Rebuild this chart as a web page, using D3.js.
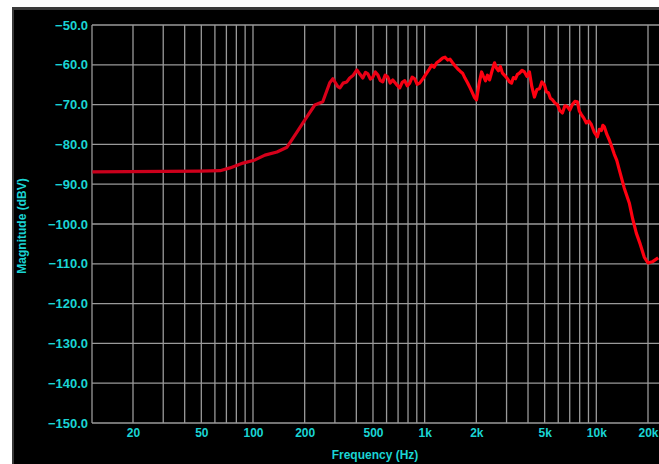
<!DOCTYPE html>
<html><head><meta charset="utf-8">
<script src="https://cdn.jsdelivr.net/npm/d3@7"></script>
<style>html,body{margin:0;padding:0;background:#fff;}svg{display:block;}</style>
</head><body>
<script>
// Data
const freqHz = [11.6,49.2,64.3,73.5,87.5,102.7,117.4,137.9,157.8,180.3,206,229,255,280,292,312,321,335,352,366,384,403,420,436,452,467,483,499,516,533,551,570,589,609,630,652,684,716,740,766,792,818,846,875,905,935,980,1027,1060,1099,1135,1175,1220,1273,1315,1361,1405,1455,1505,1556,1610,1663,1720,1778,1840,1901,1950,2006,2070,2145,2200,2263,2320,2388,2470,2553,2620,2692,2760,2840,2940,3038,3120,3206,3290,3382,3470,3567,3690,3813,3940,4077,4210,4360,4510,4665,4820,4989,5120,5262,5400,5550,5740,5933,6130,6342,6560,6780,7010,7248,7500,7755,7960,8183,8460,8749,9040,9352,9740,10140,10420,10700,10920,11140,11520,11910,12300,12730,13160,13610,14550,15560,16300,17100,18000,19020,20000,21170,22910];
const magDbV = [-86.9,-86.7,-86.6,-85.9,-84.7,-83.9,-82.7,-81.9,-80.7,-76.9,-73.1,-70.1,-69.3,-64.5,-63.5,-65.5,-65.8,-64.6,-64.3,-63.3,-62.6,-61.3,-62.4,-63.3,-61.9,-62.3,-63.6,-63.1,-61.8,-62.5,-63.9,-64.3,-62.6,-63.0,-64.6,-63.8,-64.9,-65.8,-64.4,-64.0,-65.3,-64.6,-63.1,-63.5,-64.9,-64.6,-63.4,-62.1,-61.2,-60.1,-60.6,-59.5,-59.0,-58.3,-58.1,-58.8,-58.6,-59.5,-60.3,-61.0,-61.6,-62.1,-63.4,-64.5,-65.8,-67.1,-68.2,-68.8,-65.0,-61.8,-62.9,-64.0,-62.6,-63.8,-61.5,-59.5,-60.8,-61.5,-60.4,-62.1,-62.8,-63.5,-64.3,-64.6,-63.2,-63.5,-62.4,-62.1,-61.4,-61.8,-62.9,-61.8,-65.5,-68.1,-66.2,-66.0,-64.3,-65.1,-66.8,-67.0,-68.4,-68.8,-69.6,-70.0,-71.5,-72.1,-70.3,-70.5,-71.4,-70.0,-69.2,-69.3,-71.6,-72.5,-73.4,-74.6,-74.1,-75.0,-77.0,-78.1,-76.2,-76.5,-75.2,-75.6,-77.5,-78.9,-80.6,-82.5,-84.0,-86.4,-91.0,-94.7,-98.8,-102.3,-105.0,-108.3,-109.8,-109.5,-108.5];
const yTicks = [-50,-60,-70,-80,-90,-100,-110,-120,-130,-140,-150];
const xTickVals = [20,50,100,200,500,1000,2000,5000,10000,20000];
const xTickLabels = ["20","50","100","200","500","1k","2k","5k","10k","20k"];
const xGridVals = [20,30,40,50,60,70,80,90,100,200,300,400,500,600,700,800,900,1000,2000,3000,4000,5000,6000,7000,8000,9000,10000,20000];

const W = 659, H = 464;
const plot = {left: 92, top: 25, right: 659, bottom: 423};
const cyan = "#1ad4d4";
const font = "Liberation Sans, Arial, sans-serif";

const svg = d3.select("body").append("svg").attr("width", W).attr("height", H);
svg.append("rect").attr("width", W).attr("height", H).attr("fill", "#fff");
svg.append("rect").attr("x", 12).attr("y", 7).attr("width", W - 12).attr("height", H - 7).attr("fill", "#000");
svg.append("rect").attr("x", 12).attr("y", 7).attr("width", W - 12).attr("height", 3).attr("fill", "#3a3a3a");
svg.append("rect").attr("x", 12).attr("y", 7).attr("width", 2).attr("height", H - 7).attr("fill", "#3a3a3a");

// Scales: 20 Hz -> 133px, 20 kHz -> 648px
const x = d3.scaleLog().domain([20, 20000]).range([133, 648]);
const y = d3.scaleLinear().domain([-150, -50]).range([plot.bottom, plot.top]);

svg.append("clipPath").attr("id", "pc").append("rect")
  .attr("x", plot.left).attr("y", plot.top - 2).attr("width", plot.right - plot.left).attr("height", plot.bottom - plot.top + 4);

const grid = svg.append("g").attr("stroke", "#9a9a9a").attr("stroke-width", 1.3);
grid.selectAll("line.h").data(yTicks).join("line").attr("class", "h")
  .attr("x1", plot.left).attr("x2", plot.right).attr("y1", d => y(d)).attr("y2", d => y(d));
grid.selectAll("line.v").data(xGridVals).join("line").attr("class", "v")
  .attr("x1", d => x(d)).attr("x2", d => x(d)).attr("y1", plot.top).attr("y2", plot.bottom);
grid.append("line").attr("x1", plot.left).attr("x2", plot.left).attr("y1", plot.top).attr("y2", plot.bottom);

// Y axis labels
const yAxis = d3.axisLeft(y).tickValues(yTicks).tickFormat(d3.format(".1f")).tickSize(0).tickPadding(4);
const ya = svg.append("g").attr("transform", `translate(${plot.left},0)`).call(yAxis);
ya.select(".domain").remove();
ya.selectAll("text").attr("fill", cyan).attr("font-family", font).attr("font-size", 13).attr("font-weight", "bold");

// X axis labels
const xAxis = d3.axisBottom(x).tickValues(xTickVals).tickFormat((d, i) => xTickLabels[i]).tickSize(0).tickPadding(5);
const xa = svg.append("g").attr("transform", `translate(0,${plot.bottom})`).call(xAxis);
xa.select(".domain").remove();
xa.selectAll("text").attr("fill", cyan).attr("font-family", font).attr("font-size", 12).attr("font-weight", "bold");

// Titles
svg.append("text").attr("x", 375).attr("y", 459).attr("text-anchor", "middle")
  .attr("fill", cyan).attr("font-family", font).attr("font-size", 12).attr("font-weight", "bold")
  .text("Frequency (Hz)");
svg.append("text").attr("transform", "translate(26,226) rotate(-90)").attr("text-anchor", "middle")
  .attr("fill", cyan).attr("font-family", font).attr("font-size", 12).attr("font-weight", "bold")
  .text("Magnitude (dBV)");

// Curve gradient (darker red at low frequencies, bright red above)
const grad = svg.append("defs").append("linearGradient").attr("id", "rg")
  .attr("gradientUnits", "userSpaceOnUse").attr("x1", plot.left).attr("x2", plot.right).attr("y1", 0).attr("y2", 0);
grad.append("stop").attr("offset", "0%").attr("stop-color", "#c8001c");
grad.append("stop").attr("offset", "40%").attr("stop-color", "#d8001a");
grad.append("stop").attr("offset", "60%").attr("stop-color", "#ff0010");
grad.append("stop").attr("offset", "100%").attr("stop-color", "#ff0010");

const pts = freqHz.map((f, i) => [f, magDbV[i]]);
const line = d3.line().x(d => x(d[0])).y(d => y(d[1])).curve(d3.curveLinear);
svg.append("path").attr("clip-path", "url(#pc)").datum(pts).attr("d", line)
  .attr("fill", "none").attr("stroke", "url(#rg)").attr("stroke-width", 3.2).attr("stroke-linejoin", "round");
</script>
</body></html>
